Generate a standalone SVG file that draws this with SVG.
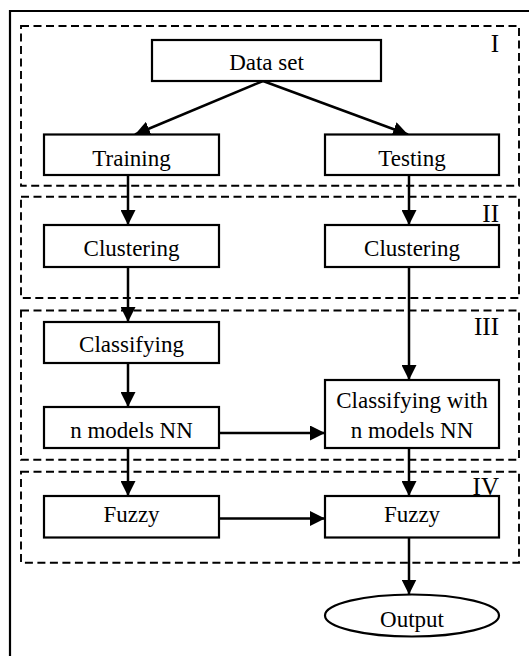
<svg xmlns="http://www.w3.org/2000/svg" width="529" height="656" viewBox="0 0 529 656">
<style>
.node{fill:#fff;stroke:#000;stroke-width:2.2}
.grp{fill:none;stroke:#000;stroke-width:1.9;stroke-dasharray:8 4.5}
.lbl{font-family:'Liberation Serif','DejaVu Serif',serif;font-size:23px;fill:#000;text-anchor:middle}
.num{font-family:'Liberation Serif','DejaVu Serif',serif;font-size:25px;fill:#000;text-anchor:end}
.conn{fill:none;stroke:#000;stroke-width:2.5}
</style>
<defs>
<marker id="ah" markerUnits="userSpaceOnUse" markerWidth="15" markerHeight="15" refX="15" refY="7.5" orient="auto">
<path d="M0,0 L15,7.5 L0,15 z" fill="#000"/>
</marker>
</defs>
<rect width="529" height="656" fill="#fff"/>
<path d="M10,656 V11 H529" fill="none" stroke="#000" stroke-width="2.2"/>
<g id="groups">
<rect class="grp" x="21" y="26" width="498" height="159.7"/>
<rect class="grp" x="21" y="196.7" width="498" height="101.3"/>
<rect class="grp" x="21" y="310.5" width="498" height="149.3"/>
<rect class="grp" x="21" y="471.8" width="498" height="90.9"/>
<text class="num" x="499" y="52">I</text>
<text class="num" x="499" y="222">II</text>
<text class="num" x="499" y="335">III</text>
<text class="num" x="499" y="495">IV</text>
</g>
<g id="connectors">
<line class="conn" x1="263" y1="81" x2="135" y2="134.5" marker-end="url(#ah)"/>
<line class="conn" x1="263" y1="81" x2="408" y2="134.5" marker-end="url(#ah)"/>
<line class="conn" x1="128" y1="175" x2="128" y2="225" marker-end="url(#ah)"/>
<line class="conn" x1="409" y1="175" x2="409" y2="225" marker-end="url(#ah)"/>
<line class="conn" x1="128" y1="267" x2="128" y2="322" marker-end="url(#ah)"/>
<line class="conn" x1="409" y1="267" x2="409" y2="380" marker-end="url(#ah)"/>
<line class="conn" x1="128" y1="363" x2="128" y2="407" marker-end="url(#ah)"/>
<line class="conn" x1="219" y1="433" x2="325" y2="433" marker-end="url(#ah)"/>
<line class="conn" x1="128" y1="448" x2="128" y2="496" marker-end="url(#ah)"/>
<line class="conn" x1="409" y1="448" x2="409" y2="496" marker-end="url(#ah)"/>
<line class="conn" x1="219" y1="518.5" x2="325" y2="518.5" marker-end="url(#ah)"/>
<line class="conn" x1="409" y1="537.5" x2="409" y2="594.5" marker-end="url(#ah)"/>
</g>
<g id="dataset">
<rect class="node" x="152" y="40" width="229" height="41"/>
<text class="lbl" x="266.5" y="70">Data set</text>
</g>
<g id="training">
<rect class="node" x="44" y="134.5" width="175" height="40.5"/>
<text class="lbl" x="131.5" y="166">Training</text>
</g>
<g id="testing">
<rect class="node" x="325" y="134.5" width="174" height="40.5"/>
<text class="lbl" x="412" y="166">Testing</text>
</g>
<g id="clustering-left">
<rect class="node" x="44" y="225" width="175" height="42"/>
<text class="lbl" x="131.5" y="255.5">Clustering</text>
</g>
<g id="clustering-right">
<rect class="node" x="325" y="225" width="174" height="42"/>
<text class="lbl" x="412" y="255.5">Clustering</text>
</g>
<g id="classifying">
<rect class="node" x="44" y="322" width="175" height="41"/>
<text class="lbl" x="131.5" y="352">Classifying</text>
</g>
<g id="nmodels">
<rect class="node" x="44" y="407" width="175" height="41"/>
<text class="lbl" x="131.5" y="438">n models NN</text>
</g>
<g id="classifying-with">
<rect class="node" x="325" y="380" width="174" height="68"/>
<text class="lbl" x="412" y="408">Classifying with</text>
<text class="lbl" x="412" y="438">n models NN</text>
</g>
<g id="fuzzy-left">
<rect class="node" x="44" y="496" width="175" height="41.5"/>
<text class="lbl" x="131.5" y="522">Fuzzy</text>
</g>
<g id="fuzzy-right">
<rect class="node" x="325" y="496" width="174" height="41.5"/>
<text class="lbl" x="412" y="522">Fuzzy</text>
</g>
<g id="output">
<ellipse class="node" cx="412" cy="615.5" rx="87" ry="21"/>
<text class="lbl" x="412" y="627">Output</text>
</g>
</svg>
